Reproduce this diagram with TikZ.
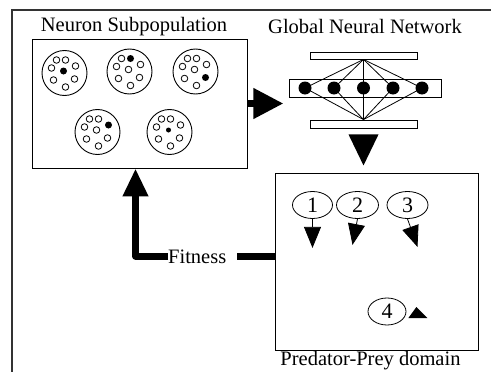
\documentclass[tikz,border=0pt]{standalone}
\usepackage{fontspec}
\setmainfont{Liberation Serif}
\usetikzlibrary{arrows.meta,shapes.geometric,calc}
\newcommand\neuroncluster[5]{% name, x, y, filled index, filled radius
  \node[clusterc] (#1) at (#2,#3) {};
  \foreach \dx/\dy [count=\i] in {-8/-13,1/-13,11/-7,-13/-5,-1/-2,-11/7,10/6,1/14} {
    \ifnum\i=#4
      \fill ($(#1)+(\dx,\dy)$) circle (#5pt);
    \else
      \draw[thinline] ($(#1)+(\dx,\dy)$) circle (3.3pt);
    \fi
  }
}
\begin{document}
\begin{tikzpicture}[x=1pt,y=-1pt,
  lbl/.style={font=\fontsize{20.5}{24}\selectfont, inner sep=0},
  thinline/.style={line width=0.8pt},
  boxframe/.style={draw, line width=0.9pt, inner sep=0},
  clusterc/.style={draw, circle, line width=0.9pt, minimum size=45pt, inner sep=0},
  bar/.style={draw, line width=0.9pt, inner sep=0},
  dot/.style={fill, circle, minimum size=13pt, inner sep=0},
  fat/.style={line width=7pt},
  agent/.style={ellipse, draw, line width=0.8pt, inner sep=0, minimum height=27pt, font=\fontsize{22}{24}\selectfont},
  agentarrow/.style={line width=0.8pt, -{Triangle[length=21pt,width=17pt]}},
  frameline/.style={line width=1.1pt, black!80}
]
\useasboundingbox (0,0) rectangle (491,372);
% outer frame
\coordinate (fbl) at (12,372);
\coordinate (ftl) at (12,10);
\coordinate (ftr) at (491,10);
\draw[frameline] (fbl) -- (ftl) -- (ftr);

% neuron subpopulation
\node[lbl, anchor=base] (t1) at (134,31) {Neuron Subpopulation};
\node[boxframe, minimum width=215pt, minimum height=129pt] (nbox) at (139.5,103.5) {};
\neuroncluster{c1}{64.5}{73}{5}{3.5}
\neuroncluster{c2}{129.5}{71.5}{2}{3.5}
\neuroncluster{c3}{195.5}{71.5}{7}{3.5}
\neuroncluster{c4}{97.5}{132}{3}{3.5}
\neuroncluster{c5}{169.5}{132}{5}{2.5}

% global neural network
\node[lbl, anchor=base] (t2) at (365,34) {Global Neural Network};
\node[bar, minimum width=107pt, minimum height=7pt] (tbar) at (363.5,55.5) {};
\node[bar, minimum width=152pt, minimum height=18pt] (mbar) at (365,88) {};
\node[bar, minimum width=107pt, minimum height=8pt] (bbar) at (363.5,124) {};
\foreach \x [count=\i] in {305,334,363.5,393,422} {
  \node[dot] (d\i) at (\x,88) {};
  \draw[thinline] (tbar.south) -- (d\i.center);
  \draw[thinline] (d\i.center) -- (bbar.north);
}

% arrows between modules
\draw[fat, -{Triangle[length=30pt,width=29pt]}] (nbox.east) -- ++(36,0);
\fill ($(bbar.south)+(-15,6)$) -- ($(bbar.south)+(15,6)$) -- ($(bbar.south)+(0,37)$) -- cycle;

% predator-prey domain
\node[boxframe, minimum width=203pt, minimum height=177pt] (ppbox) at (376.5,261.5) {};
\node[lbl, anchor=base] (t3) at (370.5,365) {Predator-Prey domain};
\node[agent, minimum width=40pt] (e1) at (312.5,205) {1};
\node[agent, minimum width=42pt] (e2) at (357.5,205) {2};
\node[agent, minimum width=41pt] (e3) at (407.5,205) {3};
\node[agent, minimum width=38pt] (e4) at (387,311.5) {4};
\draw[agentarrow] (e1.south) -- ++(0,29);
\draw[agentarrow] (e2.south) -- ++(-5,26);
\draw[agentarrow] (e3.south) -- ++(10,28);
\fill ($(e4.east)+(10,-4.5)$) -- ($(e4.east)+(2,6.5)$) -- ($(e4.east)+(21,6.5)$) -- cycle;

% fitness feedback
\coordinate (fy) at (0,256);
\node[lbl, anchor=base west] (fit) at (168,263) {Fitness};
\draw[fat] (ppbox.west |- fy) -- ([xshift=11pt]fit.east |- fy);
\draw[fat, line join=round, -{Triangle[length=28pt,width=24pt]}] (fit.west |- fy) -| ([xshift=-4pt]nbox.south);
\end{tikzpicture}
\end{document}
